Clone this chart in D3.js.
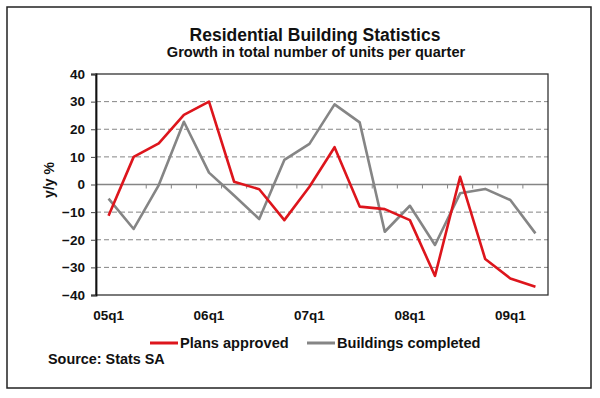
<!DOCTYPE html>
<html>
<head>
<meta charset="utf-8">
<script src="https://cdn.jsdelivr.net/npm/d3@7"></script>
<style>
  body { margin: 0; background: #fff; }
  text { font-family: "Liberation Sans", Arial, sans-serif; font-weight: bold; fill: #111; }
</style>
</head>
<body>
<svg id="chart" width="600" height="398"></svg>
<script>
// quarters 05q1 .. 09q2
var quarters = ["05q1","05q2","05q3","05q4","06q1","06q2","06q3","06q4",
                "07q1","07q2","07q3","07q4","08q1","08q2","08q3","08q4","09q1","09q2"];
var plansApproved = [-11.3, 10, 14.9, 25.2, 30, 1, -1.7, -12.9, -0.8, 13.5, -8, -8.9,
                     -12.9, -33.1, 2.8, -27, -34, -37];
var buildingsCompleted = [-5.1, -16.1, -0.2, 22.7, 4.3, -4, -12.5, 8.9, 14.7, 29, 22.5, -17.1,
                          -7.7, -21.9, -3.2, -1.6, -5.6, -17.7];
var yTicks = [-40, -30, -20, -10, 0, 10, 20, 30, 40];

var red = "#dd151c", grey = "#858585";

var margin = {top: 74, left: 96},
    width = 548 - 96,
    height = 295 - 74;

var svg = d3.select("#chart");

// outer frame
svg.append("rect")
    .attr("x", 7).attr("y", 7).attr("width", 584).attr("height", 381)
    .attr("fill", "none").attr("stroke", "#222").attr("stroke-width", 1.5);

svg.append("text").attr("x", 315).attr("y", 41)
    .attr("text-anchor", "middle").style("font-size", "17.5px")
    .text("Residential Building Statistics");
svg.append("text").attr("x", 316).attr("y", 57)
    .attr("text-anchor", "middle").style("font-size", "14.6px")
    .text("Growth in total number of units per quarter");

var x = d3.scaleBand().domain(quarters).range([0, width]).padding(0);
var y = d3.scaleLinear().domain([-40, 40]).range([height, 0]);

var chart = svg.append("g")
    .attr("transform", "translate(" + margin.left + "," + margin.top + ")");

// dashed grid
chart.selectAll(".grid")
    .data(yTicks.filter(d => d != 0 && Math.abs(d) != 40))
    .enter().append("line")
    .attr("x1", 0).attr("x2", width)
    .attr("y1", d => y(d)).attr("y2", d => y(d))
    .attr("stroke", grey).attr("stroke-width", 1)
    .attr("stroke-dasharray", "5,3");

// zero line + ticks at category boundaries
chart.append("line")
    .attr("x1", 0).attr("x2", width)
    .attr("y1", y(0)).attr("y2", y(0))
    .attr("stroke", grey).attr("stroke-width", 1.3);
chart.selectAll(".ztick")
    .data(quarters.slice(1))
    .enter().append("line")
    .attr("x1", d => x(d)).attr("x2", d => x(d))
    .attr("y1", y(0)).attr("y2", y(0) + 4)
    .attr("stroke", grey).attr("stroke-width", 1);

// plot frame
chart.append("rect")
    .attr("width", width).attr("height", height)
    .attr("fill", "none").attr("stroke", "#333").attr("stroke-width", 1.3);

// y axis
var yAxis = d3.axisLeft(y).tickValues(yTicks).tickSize(5).tickPadding(6);
var gy = chart.append("g").call(yAxis);
gy.select(".domain").attr("stroke", "#111").attr("stroke-width", 1.8);
gy.selectAll(".tick line").attr("stroke", "#444");
gy.selectAll("text").style("font-size", "13.5px").attr("fill", "#111")
    .style("font-family", "Liberation Sans, Arial, sans-serif").style("font-weight", "bold");

// x labels
var xAxis = d3.axisBottom(x).tickSize(0).tickPadding(15)
    .tickFormat(d => d.slice(2) == "q1" ? d : "");
var gx = chart.append("g").attr("transform", "translate(0," + height + ")").call(xAxis);
gx.select(".domain").remove();
gx.selectAll("text").style("font-size", "13.5px").attr("fill", "#111")
    .style("font-family", "Liberation Sans, Arial, sans-serif").style("font-weight", "bold");

svg.append("text")
    .attr("transform", "translate(54,180) rotate(-90)")
    .attr("text-anchor", "middle").style("font-size", "14px")
    .text("y/y %");

// series
var line = d3.line()
    .x((d, i) => x(quarters[i]) + x.bandwidth() / 2)
    .y(d => y(d));

chart.append("path").datum(buildingsCompleted)
    .attr("d", line).attr("fill", "none")
    .attr("stroke", grey).attr("stroke-width", 2.6).attr("stroke-linejoin", "round");
chart.append("path").datum(plansApproved)
    .attr("d", line).attr("fill", "none")
    .attr("stroke", red).attr("stroke-width", 2.6).attr("stroke-linejoin", "round");

// legend
var legend = [{name: "Plans approved", color: red, x: 150},
              {name: "Buildings completed", color: grey, x: 307}];
var lg = svg.selectAll(".leg").data(legend).enter().append("g")
    .attr("transform", d => "translate(" + d.x + ",343)");
lg.append("line").attr("x1", 0).attr("x2", 28)
    .attr("stroke", d => d.color).attr("stroke-width", 3);
lg.append("text").attr("x", 30).attr("y", 5)
    .style("font-size", "14.6px").text(d => d.name);

svg.append("text").attr("x", 48).attr("y", 364)
    .style("font-size", "14.4px").text("Source: Stats SA");
</script>
</body>
</html>
